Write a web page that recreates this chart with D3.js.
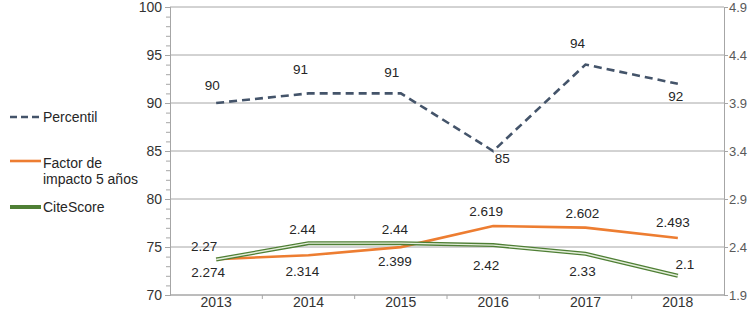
<!DOCTYPE html>
<html>
<head>
<meta charset="utf-8">
<script src="https://cdn.jsdelivr.net/npm/d3@7"></script>
<style>
  body { margin: 0; background: #fff; }
  svg { display: block; font-family: "Liberation Sans", Arial, sans-serif; }
</style>
</head>
<body>
<svg id="chart" width="752" height="309"></svg>
<script>
const years = ["2013", "2014", "2015", "2016", "2017", "2018"];
const percentil = [90, 91, 91, 85, 94, 92];
const factor5 = [2.274, 2.314, 2.399, 2.619, 2.602, 2.493];
const citeScore = [2.27, 2.44, 2.44, 2.42, 2.33, 2.1];
const leftTicks = [70, 75, 80, 85, 90, 95, 100];
const rightTicks = [1.9, 2.4, 2.9, 3.4, 3.9, 4.4, 4.9];

const svg = d3.select("#chart");
const plotL = 170, plotR = 724, plotT = 7, plotB = 295;

const x = d3.scaleBand().domain(years).range([plotL, plotR]);
const yL = d3.scaleLinear().domain([70, 100]).range([plotB, plotT]);
const yR = d3.scaleLinear().domain([1.9, 4.9]).range([plotB, plotT]);
const cx = d => x(d) + x.bandwidth() / 2;

// gridlines
svg.append("g").selectAll("line")
  .data(leftTicks)
  .join("line")
  .attr("x1", plotL).attr("x2", plotR)
  .attr("y1", d => yL(d)).attr("y2", d => yL(d))
  .attr("stroke", "#a6a6a6").attr("stroke-width", 1);

// left axis with minor ticks
const gL = svg.append("g").attr("transform", `translate(${plotL},0)`)
  .call(d3.axisLeft(yL).tickValues(d3.range(70, 101, 1)).tickSize(4).tickFormat(""));
const gL2 = svg.append("g").attr("transform", `translate(${plotL},0)`)
  .call(d3.axisLeft(yL).tickValues(leftTicks).tickSize(5).tickPadding(3));
const gR = svg.append("g").attr("transform", `translate(${plotR},0)`)
  .call(d3.axisRight(yR).tickValues(rightTicks).tickSize(4).tickPadding(1).tickFormat(d3.format(".1f")));
const gB = svg.append("g").attr("transform", `translate(0,${plotB})`)
  .call(d3.axisBottom(x).tickSize(0).tickPadding(2));
// category separators
svg.append("g").selectAll("line")
  .data(years.slice(1))
  .join("line")
  .attr("x1", d => x(d)).attr("x2", d => x(d))
  .attr("y1", plotB).attr("y2", plotB + 4)
  .attr("stroke", "#a6a6a6");

[gL, gL2, gR, gB].forEach(g => {
  g.selectAll(".domain").attr("stroke", "#a6a6a6");
  g.selectAll(".tick line").attr("stroke", "#a6a6a6");
  g.selectAll("text").attr("fill", "#333").style("font-size", "14px")
    .style("font-family", "'Liberation Sans', Arial, sans-serif");
});
gR.selectAll("text").style("font-size", "13px").attr("fill", "#595959");
gB.selectAll(".domain").attr("d", `M${plotL},0H${plotR}`);

// lines
const linePct = d3.line().x((d, i) => cx(years[i])).y(d => yL(d));
const lineR = d3.line().x((d, i) => cx(years[i])).y(d => yR(d));

svg.append("path").datum(factor5)
  .attr("d", lineR).attr("fill", "none")
  .attr("stroke", "#ed7d31").attr("stroke-width", 2.6);

svg.append("path").datum(citeScore)
  .attr("d", lineR).attr("fill", "none")
  .attr("stroke", "#4f7f35").attr("stroke-width", 4);
svg.append("path").datum(citeScore)
  .attr("d", lineR).attr("fill", "none")
  .attr("stroke", "#e4eedb").attr("stroke-width", 1.4);

svg.append("path").datum(percentil)
  .attr("d", linePct).attr("fill", "none")
  .attr("stroke", "#44546a").attr("stroke-width", 2.6)
  .attr("stroke-dasharray", "8,5");

// data labels
const lab = (vals, yS, offs) => {
  svg.append("g").selectAll("text")
    .data(vals)
    .join("text")
    .attr("x", (d, i) => cx(years[i]) + offs[i][0])
    .attr("y", (d, i) => yS(d) + offs[i][1])
    .attr("text-anchor", "middle")
    .attr("dominant-baseline", "central")
    .attr("fill", "#262626")
    .style("font-size", "13.5px")
    .text(d => d);
};
lab(percentil, yL, [[-4, -18], [-8, -24], [-9, -21], [9, 7], [-8, -21], [-2, 13]]);
lab(factor5, yR, [[-8, 13], [-6, 16], [-6, 14], [-7, -14], [-3, -14], [-5, -16]]);
lab(citeScore, yR, [[-12, -13], [-6, -14], [-6, -14], [-7, 20], [-3, 18], [7, -11]]);

// legend
const lg = svg.append("g").style("font-size", "14px").attr("fill", "#262626");
lg.append("line").attr("x1", 10).attr("x2", 41).attr("y1", 117).attr("y2", 117)
  .attr("stroke", "#44546a").attr("stroke-width", 2.6).attr("stroke-dasharray", "7,4");
lg.append("text").attr("x", 43).attr("y", 117).attr("dominant-baseline", "central").text("Percentil");
lg.append("line").attr("x1", 10).attr("x2", 41).attr("y1", 161).attr("y2", 161)
  .attr("stroke", "#ed7d31").attr("stroke-width", 2.6);
lg.append("text").attr("x", 43).attr("y", 163).attr("dominant-baseline", "central").text("Factor de");
lg.append("text").attr("x", 43).attr("y", 179).attr("dominant-baseline", "central").text("impacto 5 años");
lg.append("line").attr("x1", 10).attr("x2", 41).attr("y1", 207).attr("y2", 207)
  .attr("stroke", "#4f7f35").attr("stroke-width", 4);
lg.append("text").attr("x", 43).attr("y", 207).attr("dominant-baseline", "central").text("CiteScore");
</script>
</body>
</html>
